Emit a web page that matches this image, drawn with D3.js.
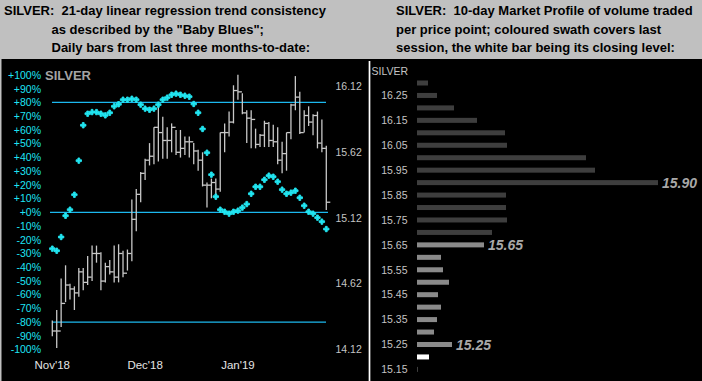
<!DOCTYPE html>
<html><head><meta charset="utf-8">
<script src="https://cdn.jsdelivr.net/npm/d3@7"></script>
<style>html,body{margin:0;padding:0;background:#000;}svg{display:block;}text{white-space:pre;}</style>
</head><body>
<script>
// ---- data ----
const highs = [14.34,14.42,14.66,14.76,14.62,14.60,14.74,14.74,14.83,14.91,
  14.91,14.86,14.78,14.80,14.91,14.92,14.87,14.88,15.26,15.34,
  15.47,15.57,15.69,15.81,15.98,15.89,15.81,15.84,15.79,15.79,
  15.74,15.74,15.69,15.64,15.62,15.39,15.42,15.42,15.77,15.84,
  15.93,16.13,16.21,16.07,15.94,15.94,15.80,15.76,15.86,15.85,
  15.83,15.81,15.70,15.77,15.99,16.20,16.08,15.94,15.97,15.91,
  15.93,15.87,15.67];
const lows = [14.22,14.13,14.29,14.48,14.50,14.42,14.52,14.57,14.61,14.64,
  14.78,14.57,14.63,14.69,14.63,14.63,14.67,14.72,14.79,15.02,
  15.24,15.41,15.52,15.53,15.55,15.57,15.57,15.62,15.60,15.58,
  15.60,15.58,15.53,15.48,15.36,15.20,15.27,15.26,15.32,15.62,
  15.74,15.84,16.02,15.91,15.69,15.65,15.65,15.66,15.66,15.66,
  15.66,15.53,15.46,15.48,15.72,15.94,15.76,15.77,15.82,15.75,
  15.65,15.62,15.18];
const closes = [14.26,14.26,14.47,14.61,14.58,14.55,14.71,14.63,14.67,14.85,
  14.85,14.64,14.75,14.71,14.67,14.85,14.70,14.85,15.11,15.30,
  15.46,15.56,15.59,15.81,15.77,15.71,15.71,15.81,15.62,15.65,
  15.70,15.70,15.63,15.56,15.37,15.37,15.39,15.34,15.77,15.77,
  15.85,16.09,16.08,15.92,15.88,15.87,15.68,15.75,15.84,15.71,
  15.70,15.56,15.61,15.77,15.98,16.04,15.77,15.90,15.85,15.90,
  15.69,15.65,15.24];
const blues = [-26.5,-28,-18,-2.5,1.9,12.8,37.6,63.4,71.8,73,
  73,71.8,70.6,72.5,77.2,78.7,82,82,82.7,82,
  78.4,75.5,74.7,75.5,78.4,82,83.5,85.6,86.4,85.6,
  84.9,84.2,78.9,72.5,60.7,43.4,27.4,11.4,1.9,0.4,
  -1.0,0.4,1.2,3.4,6.0,13.5,18.6,18.6,23.7,26.7,
  25.9,22.3,16.5,13.5,14.3,15.7,10.6,4.8,0.4,-1.0,
  -3.9,-6.8,-12.2];
const monthLabels = ["Nov'18","Dec'18","Jan'19"];
const monthIndex = [0,21,42];
const pctTicks = [100,90,80,70,60,50,40,30,20,10,0,-10,-20,-30,-40,-50,-60,-70,-80,-90,-100];
const pctLines = [80,0,-80];
const priceTicks = [16.12,15.62,15.12,14.62,14.12];

const profileLevels = [16.30,16.25,16.20,16.15,16.10,16.05,16.00,15.95,15.90,15.85,15.80,15.75,
  15.70,15.65,15.60,15.55,15.50,15.45,15.40,15.35,15.30,15.25,15.20,15.15];
const profileVolume = [11,20,37,60,88,90,169,178,241,89,89,90,
  75,67,24,26,32,21,24,20,17,35,12,1];
const sessionLevels = [15.65,15.60,15.55,15.50,15.45,15.40,15.35,15.30,15.25];
const closeLevel = 15.20;
const profileTickLabels = [16.25,16.15,16.05,15.95,15.85,15.75,15.65,15.55,15.45,15.35,15.25,15.15];
const calloutLevels = [15.90,15.65,15.25];

const leftTitle = ["SILVER:  21-day linear regression trend consistency",
  "as described by the \"Baby Blues\";",
  "Daily bars from last three months-to-date:"];
const rightTitle = ["SILVER:  10-day Market Profile of volume traded",
  "per price point; coloured swath covers last",
  "session, the white bar being its closing level:"];

// ---- drawing ----
const W = 702, H = 381;
const svg = d3.select("body").append("svg").attr("width", W).attr("height", H);
const font = "'Liberation Sans', Arial, sans-serif";

svg.append("rect").attr("width", W).attr("height", H).attr("fill", "#000");
svg.append("rect").attr("width", W).attr("height", 59).attr("fill", "#c0c0c0");
svg.append("rect").attr("x", 0).attr("y", 0).attr("width", 1.5).attr("height", H).attr("fill", "#c0c0c0");

const titleY = [15.3, 34, 52];
leftTitle.forEach((t, i) => {
  svg.append("text").attr("x", i === 0 ? 4 : 51.5).attr("y", titleY[i])
    .attr("font-family", font).attr("font-weight", "bold").attr("font-size", 13)
    .attr("fill", "#000").text(t);
});
rightTitle.forEach((t, i) => {
  svg.append("text").attr("x", 396).attr("y", titleY[i])
    .attr("font-family", font).attr("font-weight", "bold").attr("font-size", 13)
    .attr("fill", "#000").text(t);
});

// left panel scales
const x = d3.scaleLinear().domain([0, highs.length - 1]).range([52.3, 326.3]);
const py = d3.scaleLinear().domain([14.12, 16.12]).range([349.4, 86.6]);
const pctY = d3.scaleLinear().domain([-100, 100]).range([349.6, 75]);

const cyanText = "#1ee4f4";
const lineBlue = "#1cb8ee";
const dotCyan = "#22e6f2";

// percent labels
svg.append("g").selectAll("text").data(pctTicks).join("text")
  .attr("x", 41).attr("y", d => pctY(d)).attr("dy", "0.36em")
  .attr("text-anchor", "end").attr("font-family", font).attr("font-size", 10.5)
  .attr("fill", cyanText).text(d => (d >= 0 ? "+" : "") + d + "%");

svg.append("text").attr("x", 45).attr("y", 80.3).attr("font-family", font)
  .attr("font-weight", "bold").attr("font-size", 13).attr("fill", "#a4a4a4").text("SILVER");

// reference lines
svg.append("g").selectAll("line").data(pctLines).join("line")
  .attr("x1", d => d === 0 ? 50 : 52).attr("x2", d => d === 0 ? 328 : 326)
  .attr("y1", d => pctY(d)).attr("y2", d => pctY(d))
  .attr("stroke", lineBlue).attr("stroke-width", 1.3);

// price labels
svg.append("g").selectAll("text").data(priceTicks).join("text")
  .attr("x", 335.5).attr("y", d => py(d)).attr("dy", "0.36em")
  .attr("font-family", font).attr("font-size", 10.5).attr("fill", "#c4c4c4")
  .text(d => d.toFixed(2));

// bars
const idx = d3.range(highs.length);
const barG = svg.append("g").attr("stroke", "#c8c8c8").attr("stroke-width", 1.3);
barG.selectAll("line.v").data(idx).join("line").attr("class", "v")
  .attr("x1", i => x(i)).attr("x2", i => x(i))
  .attr("y1", i => py(highs[i])).attr("y2", i => py(lows[i]));
barG.selectAll("line.c").data(idx).join("line").attr("class", "c")
  .attr("x1", i => x(i)).attr("x2", i => x(i) + 4)
  .attr("y1", i => py(closes[i])).attr("y2", i => py(closes[i]));

// baby blues
const cross = d3.symbol().type(d3.symbolCross).size(16);
svg.append("g").selectAll("path").data(idx).join("path")
  .attr("transform", i => `translate(${x(i)},${pctY(blues[i])})`)
  .attr("d", cross).attr("fill", dotCyan)
  .attr("stroke", dotCyan).attr("stroke-width", 0.9).attr("stroke-linejoin", "round");

// month labels
svg.append("g").selectAll("text").data(monthLabels).join("text")
  .attr("x", (d, i) => x(monthIndex[i])).attr("y", 369)
  .attr("text-anchor", "middle").attr("font-family", font).attr("font-size", 11.5)
  .attr("fill", "#e4e4e4").text(d => d);

// divider
svg.append("line").attr("x1", 369.5).attr("x2", 369.5).attr("y1", 61).attr("y2", H)
  .attr("stroke", "#fff").attr("stroke-width", 1.7);

// right panel
const ry = d3.scaleLinear().domain([15.15, 16.30]).range([369.4, 83]);
const rx = d3.scaleLinear().domain([0, 250]).range([417, 667]);

svg.append("text").attr("x", 371.5).attr("y", 75).attr("font-family", font)
  .attr("font-size", 10.5).attr("fill", "#c4c4c4").text("SILVER");

svg.append("g").selectAll("text").data(profileTickLabels).join("text")
  .attr("x", 407.5).attr("y", d => ry(d)).attr("dy", "0.36em").attr("text-anchor", "end")
  .attr("font-family", font).attr("font-size", 10.5).attr("fill", "#c4c4c4")
  .text(d => d.toFixed(2));

const bh = 5;
const inSession = v => sessionLevels.some(s => Math.abs(s - v) < 1e-6);
svg.append("g").selectAll("rect").data(profileLevels).join("rect")
  .attr("x", rx(0)).attr("y", d => ry(d) - bh / 2)
  .attr("width", (d, i) => rx(profileVolume[i]) - rx(0)).attr("height", bh)
  .attr("fill", d => Math.abs(d - closeLevel) < 1e-6 ? "#ffffff" : inSession(d) ? "#8a8a8a" : "#3e3e3e");

svg.append("g").selectAll("text").data(calloutLevels).join("text")
  .attr("x", d => rx(profileVolume[profileLevels.findIndex(l => Math.abs(l - d) < 1e-6)]) + 4)
  .attr("y", d => ry(d)).attr("dy", "0.36em")
  .attr("font-family", font).attr("font-weight", "bold").attr("font-style", "italic")
  .attr("font-size", 14).attr("fill", "#a8a8a8").text(d => d.toFixed(2));
</script>
</body></html>
